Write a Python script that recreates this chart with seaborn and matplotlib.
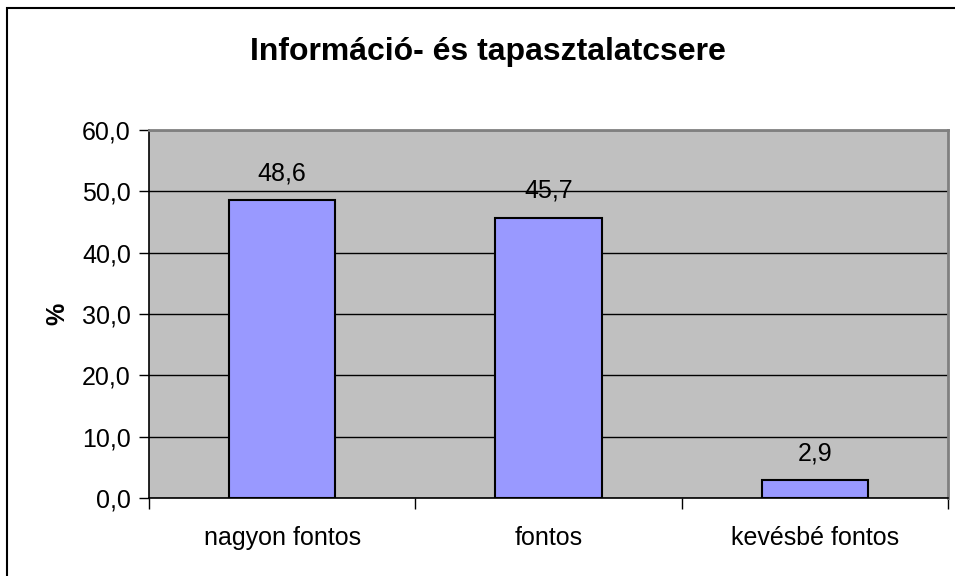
import matplotlib

matplotlib.use("Agg")
import matplotlib.pyplot as plt
import pandas as pd
import seaborn as sns
from matplotlib.patches import Rectangle
from matplotlib.ticker import FuncFormatter, FixedLocator

categories = ["nagyon fontos", "fontos", "kevésbé fontos"]
values = [48.6, 45.7, 2.9]
title = "Információ- és tapasztalatcsere"
y_label = "%"
y_ticks = [0, 10, 20, 30, 40, 50, 60]

sns.set_theme(style="white")
plt.rcParams["font.family"] = ["Liberation Sans", "DejaVu Sans"]
for key in ["text.color", "axes.labelcolor", "xtick.color", "ytick.color"]:
    plt.rcParams[key] = "black"

df = pd.DataFrame({"cat": categories, "val": values})

fig = plt.figure(figsize=(9.55, 5.76), dpi=100)
ax = fig.add_axes([149 / 955, 78 / 576, 799 / 955, 368 / 576])
ax.set_facecolor("#C0C0C0")

sns.barplot(data=df, x="cat", y="val", color="#9999FF", width=0.4,
            edgecolor="black", linewidth=1.5, saturation=1, ax=ax, zorder=3)

ax.set_ylim(0, 60)
ax.set_xlim(-0.5, 2.5)
ax.set_yticks(y_ticks)
ax.yaxis.set_major_formatter(FuncFormatter(lambda v, _: f"{v:.1f}".replace(".", ",")))
ax.grid(axis="y", color="black", linewidth=1, zorder=1)
ax.set_axisbelow(True)

ax.tick_params(axis="y", direction="out", length=7, width=1, color="black",
               labelsize=18, pad=6, left=True)
ax.tick_params(axis="x", which="major", length=0, labelsize=18, pad=20)
ax.xaxis.set_minor_locator(FixedLocator([-0.5, 0.5, 1.5, 2.5]))
ax.tick_params(axis="x", which="minor", direction="out", length=8, width=1,
               color="black", bottom=True)

for side in ["top", "right"]:
    ax.spines[side].set_color("#808080")
    ax.spines[side].set_linewidth(2)
for side in ["left", "bottom"]:
    ax.spines[side].set_color("black")
    ax.spines[side].set_linewidth(1.2)

for i, v in enumerate(values):
    ax.text(i, v + 2.4, f"{v:.1f}".replace(".", ","), ha="center", va="bottom",
            fontsize=18, zorder=4)

ax.set_xlabel("")
ax.set_ylabel(y_label, fontsize=18, fontweight="bold")
ax.yaxis.set_label_coords(-0.1, 0.5)

fig.text(488 / 955, 1 - 52 / 576, title, ha="center", va="center",
         fontsize=23, fontweight="bold")

fig.patches.append(Rectangle((7 / 955, -0.1), 2, 1 - 8 / 576 + 0.1,
                             transform=fig.transFigure, fill=False,
                             edgecolor="black", linewidth=1.5))

fig.savefig("out.png", dpi=100)
plt.close(fig)
